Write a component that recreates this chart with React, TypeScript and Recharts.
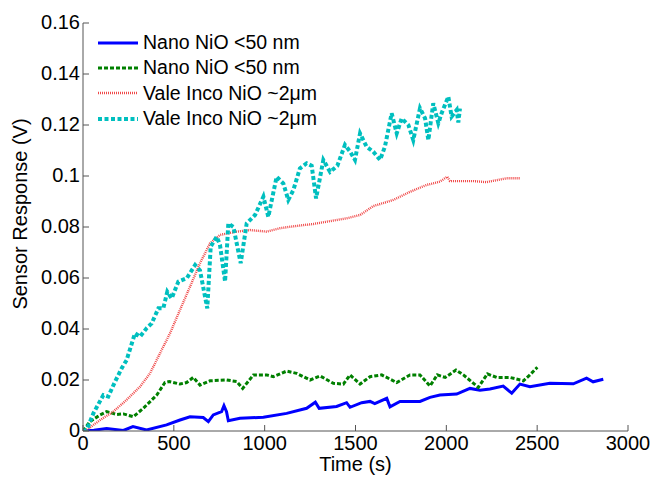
import { LineChart, Line, XAxis, YAxis, Legend, Label } from 'recharts'

// [time (s), response (V)] pairs
const nanoSolid: [number, number][] = [
  [0, 0], [60, 0.0003], [130, 0.001], [222, 0.0002], [275, 0.0017], [350, 0.0004],
  [460, 0.0024], [534, 0.0043], [589, 0.0056], [662, 0.0053], [690, 0.0037],
  [717, 0.0063], [763, 0.0076], [776, 0.0099], [790, 0.0076], [800, 0.004],
  [864, 0.005], [993, 0.0054], [1121, 0.0069], [1231, 0.0089], [1279, 0.0113],
  [1300, 0.0089], [1396, 0.0096], [1451, 0.0111], [1470, 0.0093], [1534, 0.0111],
  [1580, 0.0116], [1606, 0.0107], [1672, 0.0128], [1690, 0.0095], [1745, 0.0116],
  [1855, 0.0116], [1910, 0.0132], [1965, 0.0141], [2057, 0.0145], [2130, 0.0167],
  [2185, 0.016], [2240, 0.0165], [2313, 0.0176], [2360, 0.0148], [2405, 0.0184],
  [2460, 0.0174], [2570, 0.0187], [2699, 0.0185], [2772, 0.0207], [2808, 0.0193],
  [2864, 0.0203],
]

const nanoDashed: [number, number][] = [
  [0, 0], [38, 0.0037], [94, 0.0063], [130, 0.0076], [185, 0.0065], [222, 0.0067],
  [277, 0.0056], [332, 0.0089], [406, 0.0141], [451, 0.019], [475, 0.0194],
  [534, 0.0184], [570, 0.019], [607, 0.021], [644, 0.018], [699, 0.0197],
  [791, 0.02], [846, 0.0194], [879, 0.0167], [938, 0.022], [1011, 0.022],
  [1048, 0.0213], [1121, 0.0235], [1176, 0.0226], [1250, 0.02], [1305, 0.0216],
  [1378, 0.0187], [1433, 0.0184], [1470, 0.022], [1525, 0.0184], [1580, 0.0213],
  [1644, 0.022], [1727, 0.019], [1800, 0.022], [1855, 0.022], [1910, 0.0176],
  [1950, 0.022], [1994, 0.021], [2053, 0.0239], [2094, 0.022], [2176, 0.0171],
  [2226, 0.0224], [2277, 0.021], [2350, 0.021], [2424, 0.0197], [2460, 0.022],
  [2501, 0.025],
]

const valeThin: [number, number][] = [
  [0, 0], [20, 0.0004], [94, 0.0043], [167, 0.0076], [240, 0.0122], [314, 0.0174],
  [369, 0.0226], [424, 0.0305], [479, 0.0383], [534, 0.0475], [589, 0.0566],
  [644, 0.0658], [699, 0.0736], [754, 0.0769], [846, 0.0782], [919, 0.0788],
  [1011, 0.0782], [1084, 0.0795], [1139, 0.0801], [1268, 0.0812], [1451, 0.0834],
  [1525, 0.0847], [1598, 0.0882], [1708, 0.0906], [1800, 0.0938], [1892, 0.0965],
  [1965, 0.0978], [2005, 0.0997], [2020, 0.098], [2148, 0.098], [2220, 0.0976],
  [2332, 0.0991], [2405, 0.0991],
]

const valeThick: [number, number][] = [
  [0, 0], [20, 0.0004], [57, 0.0069], [112, 0.0141], [139, 0.0135], [176, 0.0193],
  [213, 0.0246], [240, 0.0278], [286, 0.0383], [314, 0.037], [350, 0.0403],
  [378, 0.0422], [415, 0.0481], [442, 0.0481], [464, 0.0546], [488, 0.052],
  [525, 0.0586], [571, 0.0599], [617, 0.0651], [644, 0.063], [684, 0.0481],
  [703, 0.0723], [736, 0.0762], [754, 0.073], [782, 0.0586], [800, 0.0814],
  [828, 0.08], [868, 0.0658], [901, 0.0814], [947, 0.0847], [993, 0.0919],
  [1020, 0.084], [1066, 0.0997], [1103, 0.097], [1130, 0.0906], [1158, 0.0945],
  [1194, 0.103], [1231, 0.105], [1259, 0.104], [1283, 0.0912], [1323, 0.1063],
  [1360, 0.1016], [1400, 0.104], [1442, 0.1122], [1470, 0.1096], [1497, 0.1063],
  [1525, 0.1167], [1561, 0.1115], [1598, 0.1095], [1635, 0.1063], [1662, 0.1115],
  [1699, 0.1246], [1727, 0.1167], [1754, 0.1226], [1791, 0.12], [1818, 0.1141],
  [1855, 0.1266], [1883, 0.1226], [1901, 0.1141], [1928, 0.1285], [1956, 0.1207],
  [1974, 0.1246], [2011, 0.1311], [2029, 0.1233], [2057, 0.1259], [2066, 0.121],
  [2075, 0.1265],
]

const seriesNames = [
  'Nano NiO <50 nm',
  'Nano NiO <50 nm',
  'Vale Inco NiO ~2μm',
  'Vale Inco NiO ~2μm',
]

const xTicks = [0, 500, 1000, 1500, 2000, 2500, 3000]
const yTicks = [0, 0.02, 0.04, 0.06, 0.08, 0.1, 0.12, 0.14, 0.16]

const FONT = '"Liberation Sans", Arial, sans-serif'
const AXIS = '#555'

const styles = [
  { color: '#0000ff', width: 3, dash: undefined },
  { color: '#008000', width: 3, dash: '4 2' },
  { color: '#f04848', width: 2.4, dash: '1 1' },
  { color: '#00bfbf', width: 4, dash: '4 2.5' },
]

const toRows = (pts: [number, number][]) => pts.map(([t, v]) => ({ t, v }))
const series = [nanoSolid, nanoDashed, valeThin, valeThick].map(toRows)

function XTick(props: any) {
  const { x, y, payload } = props
  return (
    <g>
      <line x1={x} x2={x} y1={y} y2={y - 6} stroke={AXIS} />
      <text x={x} y={y + 19} textAnchor="middle" fontSize={20} fontFamily={FONT} fill="#000">
        {payload.value}
      </text>
    </g>
  )
}

function YTick(props: any) {
  const { x, y, payload } = props
  return (
    <g>
      <line x1={x} x2={x + 6} y1={y} y2={y} stroke={AXIS} />
      <text x={x - 3} y={y + 6} textAnchor="end" fontSize={20} fontFamily={FONT} fill="#000">
        {payload.value}
      </text>
    </g>
  )
}

function YTitle(props: any) {
  const { viewBox } = props
  const cx = viewBox.x + 20
  const cy = viewBox.y + viewBox.height / 2 - 13
  return (
    <text
      x={cx}
      y={cy}
      transform={`rotate(-90 ${cx} ${cy})`}
      textAnchor="middle"
      dominantBaseline="central"
      fontSize={20}
      fontFamily={FONT}
      fill="#000"
    >
      Sensor Response (V)
    </text>
  )
}

function LegendBox() {
  return (
    <div style={{ fontFamily: FONT, fontSize: 19.5, color: '#000' }}>
      {seriesNames.map((name, i) => (
        <div key={i} style={{ display: 'flex', alignItems: 'center', height: 25.3, whiteSpace: 'nowrap' }}>
          <svg width={45} height={10}>
            <line
              x1={3}
              x2={43}
              y1={5}
              y2={5}
              stroke={styles[i].color}
              strokeWidth={styles[i].width}
              strokeDasharray={styles[i].dash}
            />
          </svg>
          <span style={{ marginLeft: 3 }}>{name}</span>
        </div>
      ))}
    </div>
  )
}

export default function App() {
  return (
    <div style={{ position: 'absolute', left: 0, top: 0, width: 653, height: 479, background: '#fff' }}>
      <LineChart width={653} height={479} margin={{ top: 23, right: 25, bottom: 0, left: 0 }}>
        <XAxis
          dataKey="t"
          type="number"
          domain={[0, 3000]}
          ticks={xTicks}
          interval={0}
          height={48}
          tickSize={0}
          tickMargin={0}
          tickLine={false}
          tick={<XTick />}
          axisLine={{ stroke: AXIS }}
          allowDataOverflow
        >
          <Label value="Time (s)" position="insideBottom" offset={8} fontSize={20} fontFamily={FONT} fill="#000" />
        </XAxis>
        <XAxis
          xAxisId="top"
          orientation="top"
          type="number"
          domain={[0, 3000]}
          ticks={xTicks}
          interval={0}
          height={0}
          mirror
          tickSize={6}
          tick={false}
          tickLine={{ stroke: AXIS }}
          axisLine={{ stroke: AXIS }}
        />
        <YAxis
          type="number"
          domain={[0, 0.16]}
          ticks={yTicks}
          interval={0}
          width={83}
          tickSize={0}
          tickMargin={0}
          tickLine={false}
          tick={<YTick />}
          axisLine={{ stroke: AXIS }}
          allowDataOverflow
        >
          <Label content={<YTitle />} />
        </YAxis>
        <YAxis
          yAxisId="right"
          orientation="right"
          type="number"
          domain={[0, 0.16]}
          ticks={yTicks}
          interval={0}
          width={0}
          mirror
          tickSize={6}
          tick={false}
          tickLine={{ stroke: AXIS }}
          axisLine={{ stroke: AXIS }}
        />
        {series.map((rows, i) => (
          <Line
            key={i}
            data={rows}
            dataKey="v"
            name={seriesNames[i]}
            type="linear"
            stroke={styles[i].color}
            strokeWidth={styles[i].width}
            strokeDasharray={styles[i].dash}
            dot={false}
            activeDot={false}
            isAnimationActive={false}
          />
        ))}
        <Legend
          layout="vertical"
          align="center"
          verticalAlign="middle"
          content={<LegendBox />}
          wrapperStyle={{ left: 95, top: 30, width: 'auto', height: 'auto' }}
        />
      </LineChart>
    </div>
  )
}
